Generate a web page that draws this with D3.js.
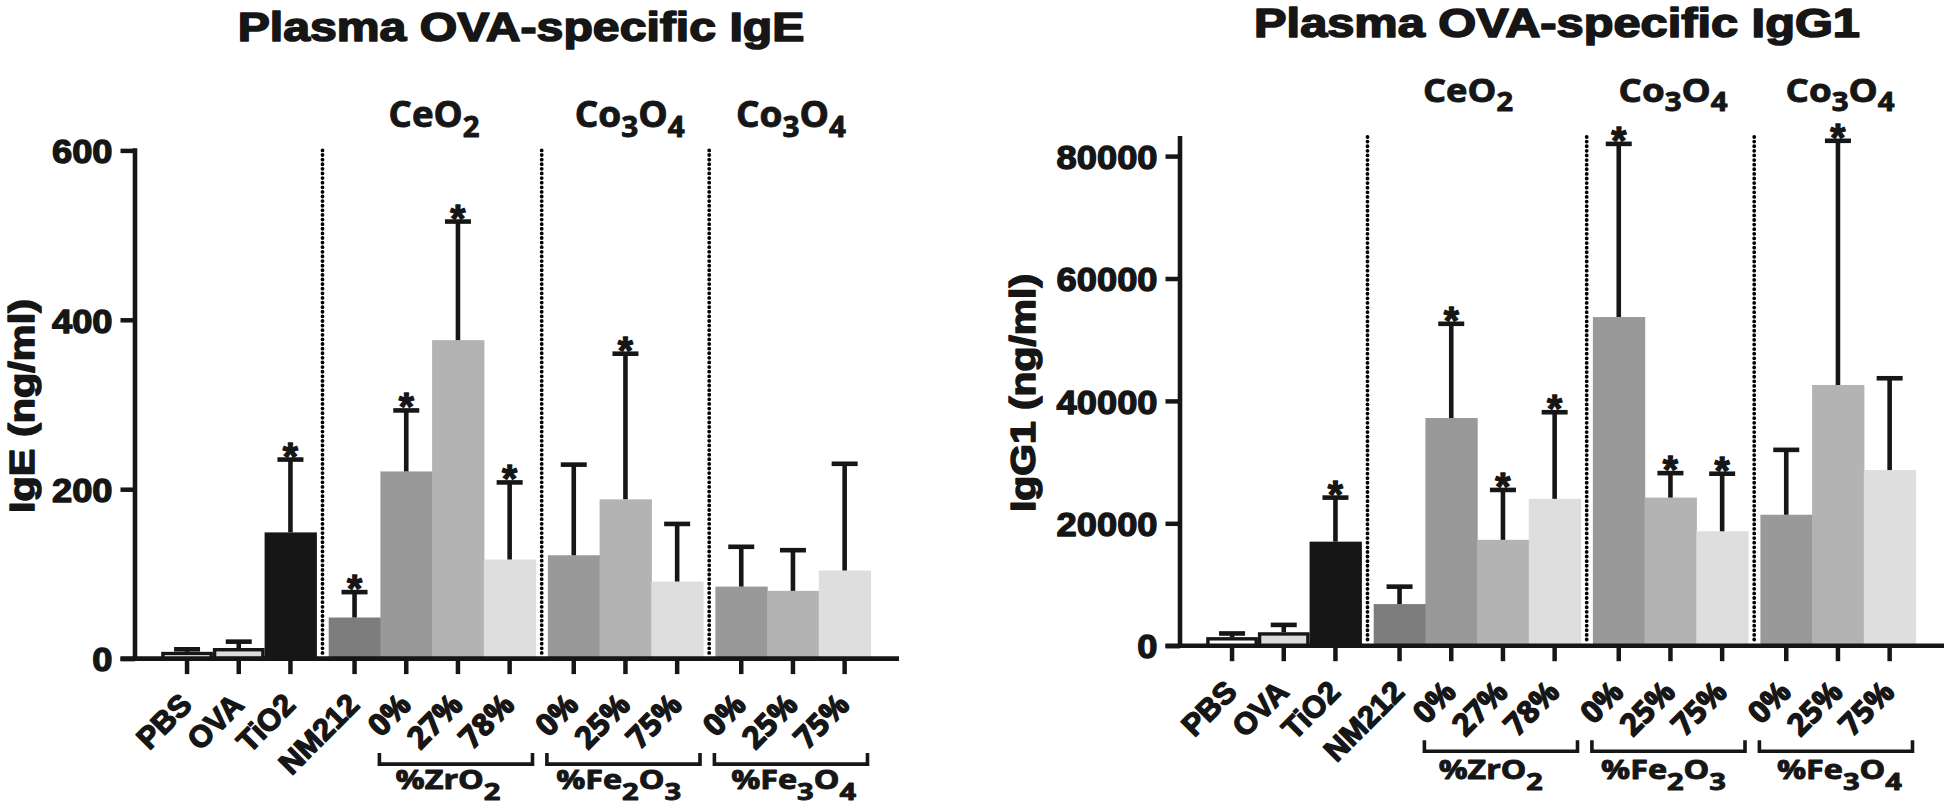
<!DOCTYPE html>
<html><head><meta charset="utf-8">
<script src="https://cdn.jsdelivr.net/npm/d3@7"></script>
<style>body{margin:0;background:#fff} svg{display:block}</style>
</head><body>
<svg id="c" width="1946" height="808"></svg>
<script>
// ---------- data ----------
const categories = ["PBS","OVA","TiO2","NM212","0%","27%","78%","0%","25%","75%","0%","25%","75%"];
const groupIndex = [0,0,0,1,1,1,1,2,2,2,3,3,3];
const barColors = ["#ffffff","#dcdcdc","#161616","#7c7c7c","#999999","#b3b3b3","#dedede","#999999","#b3b3b3","#dedede","#999999","#b3b3b3","#dedede"];
const outlined = [1,1,0,0,0,0,0,0,0,0,0,0,0];

const igeMean = [8,12.5,149,48.5,221,376,117,122,188,91,85,80,104];
const igeErr  = [3,7.5,86,30,72,140,91,107,172,68,47,48,126];
const igeStar = [0,0,1,1,1,1,1,0,1,0,0,0,0];

const igg1Mean = [1400,2200,17000,6800,37200,17300,24000,53700,24200,18700,21400,42600,28700];
const igg1Err  = [600,1200,7200,2850,15400,8150,14150,28300,4000,9400,10600,39900,15000];
const igg1Star = [0,0,1,0,1,1,1,1,1,1,0,1,0];

const igeTicks  = [0,200,400,600];
const igg1Ticks = [0,20000,40000,60000,80000];

const titles = ["Plasma OVA-specific IgE","Plasma OVA-specific IgG1"];
const yTitles = ["IgE (ng/ml)","IgG1 (ng/ml)"];
// [text, isSubscript]
const topLabels = [[["CeO",0],["2",1]], [["Co",0],["3",1],["O",0],["4",1]], [["Co",0],["3",1],["O",0],["4",1]]];
const bracketLabels = [[["%ZrO",0],["2",1]], [["%Fe",0],["2",1],["O",0],["3",1]], [["%Fe",0],["3",1],["O",0],["4",1]]];

// ---------- drawing ----------
const svg = d3.select("#c");
const INK = "#161616";
const SANS = "'Liberation Sans', Arial, Helvetica, sans-serif";
const HUM = "'Open Sans', 'Noto Sans', sans-serif";

function heavy(sel, w){
  return sel.attr("stroke",INK).attr("stroke-width",w).attr("stroke-linejoin","round");
}
function fitX(sel, target){
  const w = sel.node().getBBox().width;
  return w > 0 ? target / w : 1;
}

function formula(g, parts, fs, subScale, subShift){
  const t = g.append("text").attr("text-anchor","middle")
    .style("font-family",HUM).style("font-weight",700).style("font-size",fs+"px").attr("fill",INK);
  heavy(t, 0.9);
  let shifted = false;
  parts.forEach(([s,sub]) => {
    const ts = t.append("tspan").text(s);
    if (sub && !shifted){ ts.attr("dy", subShift).style("font-size",(fs*subScale)+"px"); shifted = true; }
    else if (sub){ ts.style("font-size",(fs*subScale)+"px"); }
    else if (!sub && shifted){ ts.attr("dy", -subShift); shifted = false; }
  });
  return t;
}

function drawChart(cfg){
  const g = svg.append("g");
  const gapR = 0.24;
  const slot = i => i + groupIndex[i]*gapR;
  const x = d3.scaleLinear().domain([0, 13 + 3*gapR]).range([cfg.ax + 26.2, cfg.ax + 26.2 + 709.3]);
  const bw = x(1) - x(0);
  const y = d3.scaleLinear().domain(cfg.domain).range(cfg.range);
  const y0 = y(0);
  const xc = i => x(slot(i)) + bw/2;

  // dotted separators
  [2,6,9].forEach(i => {
    const xm = (x(slot(i)+1) + x(slot(i+1)))/2;
    g.append("line").attr("x1",xm).attr("x2",xm).attr("y1",cfg.dotTop).attr("y2",y0-3)
      .attr("stroke","#000").attr("stroke-width",3.8).attr("stroke-linecap","round")
      .attr("stroke-dasharray","0.01 4.6");
  });

  // bars
  cfg.mean.forEach((m,i) => {
    const sw = outlined[i] ? 3.4 : 0;
    g.append("rect")
      .attr("x", x(slot(i)) + sw/2)
      .attr("y", y(m) + sw/2)
      .attr("width", bw - sw + (sw?0:0.6))
      .attr("height", Math.max(0, y0 - y(m) - sw/2))
      .attr("fill", barColors[i])
      .attr("stroke", sw ? INK : "none")
      .attr("stroke-width", sw);
  });

  // error bars + stars
  cfg.mean.forEach((m,i) => {
    const top = y(m + cfg.err[i]);
    const cx = xc(i);
    g.append("line").attr("x1",cx).attr("x2",cx).attr("y1",y(m)).attr("y2",top)
      .attr("stroke",INK).attr("stroke-width",4.6);
    g.append("line").attr("x1",cx-13).attr("x2",cx+13).attr("y1",top).attr("y2",top)
      .attr("stroke",INK).attr("stroke-width",4.6);
    if (cfg.star[i]) {
      heavy(g.append("text").attr("x",cx).attr("y",top+10).attr("text-anchor","middle")
        .style("font-family",SANS).style("font-weight",700).style("font-size","39px")
        .attr("fill",INK).text("*"), 1.3);
    }
  });

  // y axis
  g.append("line").attr("x1",cfg.ax).attr("x2",cfg.ax).attr("y1",y0).attr("y2",cfg.axisTop)
    .attr("stroke",INK).attr("stroke-width",4.6);
  const ya = g.append("g").attr("transform",`translate(${cfg.ax},0)`)
    .call(d3.axisLeft(y).tickValues(cfg.ticks).tickSize(14.5).tickFormat(d3.format("d")));
  ya.select(".domain").remove();
  ya.selectAll(".tick line").attr("stroke",INK).attr("stroke-width",4.5);
  heavy(ya.selectAll(".tick text")
    .attr("x",0).attr("dy","0.37em").attr("text-anchor","end")
    .attr("transform","translate(-22.5,0) scale(1.1,1)")
    .attr("fill",INK)
    .style("font-family",SANS).style("font-weight",700).style("font-size","33px"), 1.3);

  // x axis
  g.append("line").attr("x1",cfg.ax-14.5).attr("x2",cfg.ax+764).attr("y1",y0).attr("y2",y0)
    .attr("stroke",INK).attr("stroke-width",4.6);
  categories.forEach((c,i) => {
    g.append("line").attr("x1",xc(i)).attr("x2",xc(i)).attr("y1",y0).attr("y2",y0+15.5)
      .attr("stroke",INK).attr("stroke-width",4.5);
    heavy(g.append("text")
      .attr("transform",`translate(${xc(i)+6.5},${y0+48}) rotate(-45)`)
      .attr("text-anchor","end").attr("fill",INK)
      .style("font-family", i < 4 ? SANS : HUM).style("font-weight",700).style("font-size","30.5px")
      .text(c), 1.4);
  });

  // brackets under groups 1..3 (excluding NM212)
  const spans = [[4,6],[7,9],[10,12]];
  spans.forEach(([a,b],k) => {
    const xl = x(slot(a)) - 1, xr = x(slot(b)+1) - 3;
    g.append("path")
      .attr("d",`M${xl},${y0+94.5}V${y0+105.5}H${xr}V${y0+94.5}`)
      .attr("fill","none").attr("stroke",INK).attr("stroke-width",3.6);
    const t = formula(g, bracketLabels[k], 26, 0.9, 10.5);
    const s = fitX(t, cfg.botW[k]);
    t.attr("transform",`translate(${cfg.botCx[k]},${cfg.botBy}) scale(${s},1)`);
  });

  // top group labels
  topLabels.forEach((parts,k) => {
    const t = formula(g, parts, cfg.topFs, 0.8, cfg.topFs*0.28);
    const s = fitX(t, cfg.topW[k]);
    t.attr("transform",`translate(${cfg.topCx[k]},${cfg.topBy}) scale(${s},1)`);
  });

  // title
  const tt = heavy(g.append("text").attr("text-anchor","middle").attr("fill",INK)
    .style("font-family",SANS).style("font-weight",700).style("font-size","40px").text(cfg.title), 1.6);
  tt.attr("transform",`translate(${cfg.titleCx},${cfg.titleBy}) scale(${fitX(tt,cfg.titleW)},1)`);

  // y title
  const yt = heavy(g.append("text").attr("text-anchor","middle").attr("fill",INK)
    .style("font-family",SANS).style("font-weight",700).style("font-size","36px").text(cfg.ytitle), 1.5);
  yt.attr("transform",`translate(${cfg.ytX},${cfg.ytY}) rotate(-90) scale(${fitX(yt,cfg.ytLen)},1)`);
}

drawChart({
  ax:135, domain:[0,600], range:[658.6,150.4], axisTop:148.3, dotTop:150.4,
  ticks:igeTicks, mean:igeMean, err:igeErr, star:igeStar,
  title:titles[0], titleCx:521, titleBy:41, titleW:567,
  ytitle:yTitles[0], ytX:33.5, ytY:406, ytLen:214,
  topFs:36, topBy:127, topCx:[434,629.7,791], topW:[91,110,110],
  botBy:789, botCx:[448,618.6,793.6], botW:[105,125,125]
});
drawChart({
  ax:1180, domain:[0,80000], range:[645.7,156.1], axisTop:136, dotTop:137,
  ticks:igg1Ticks, mean:igg1Mean, err:igg1Err, star:igg1Star,
  title:titles[1], titleCx:1557, titleBy:37, titleW:606,
  ytitle:yTitles[1], ytX:1035, ytY:393, ytLen:238,
  topFs:33, topBy:102, topCx:[1468,1673,1840], topW:[90,109,109],
  botBy:779, botCx:[1490.7,1663.5,1839.4], botW:[104,125,125]
});
</script>
</body></html>
